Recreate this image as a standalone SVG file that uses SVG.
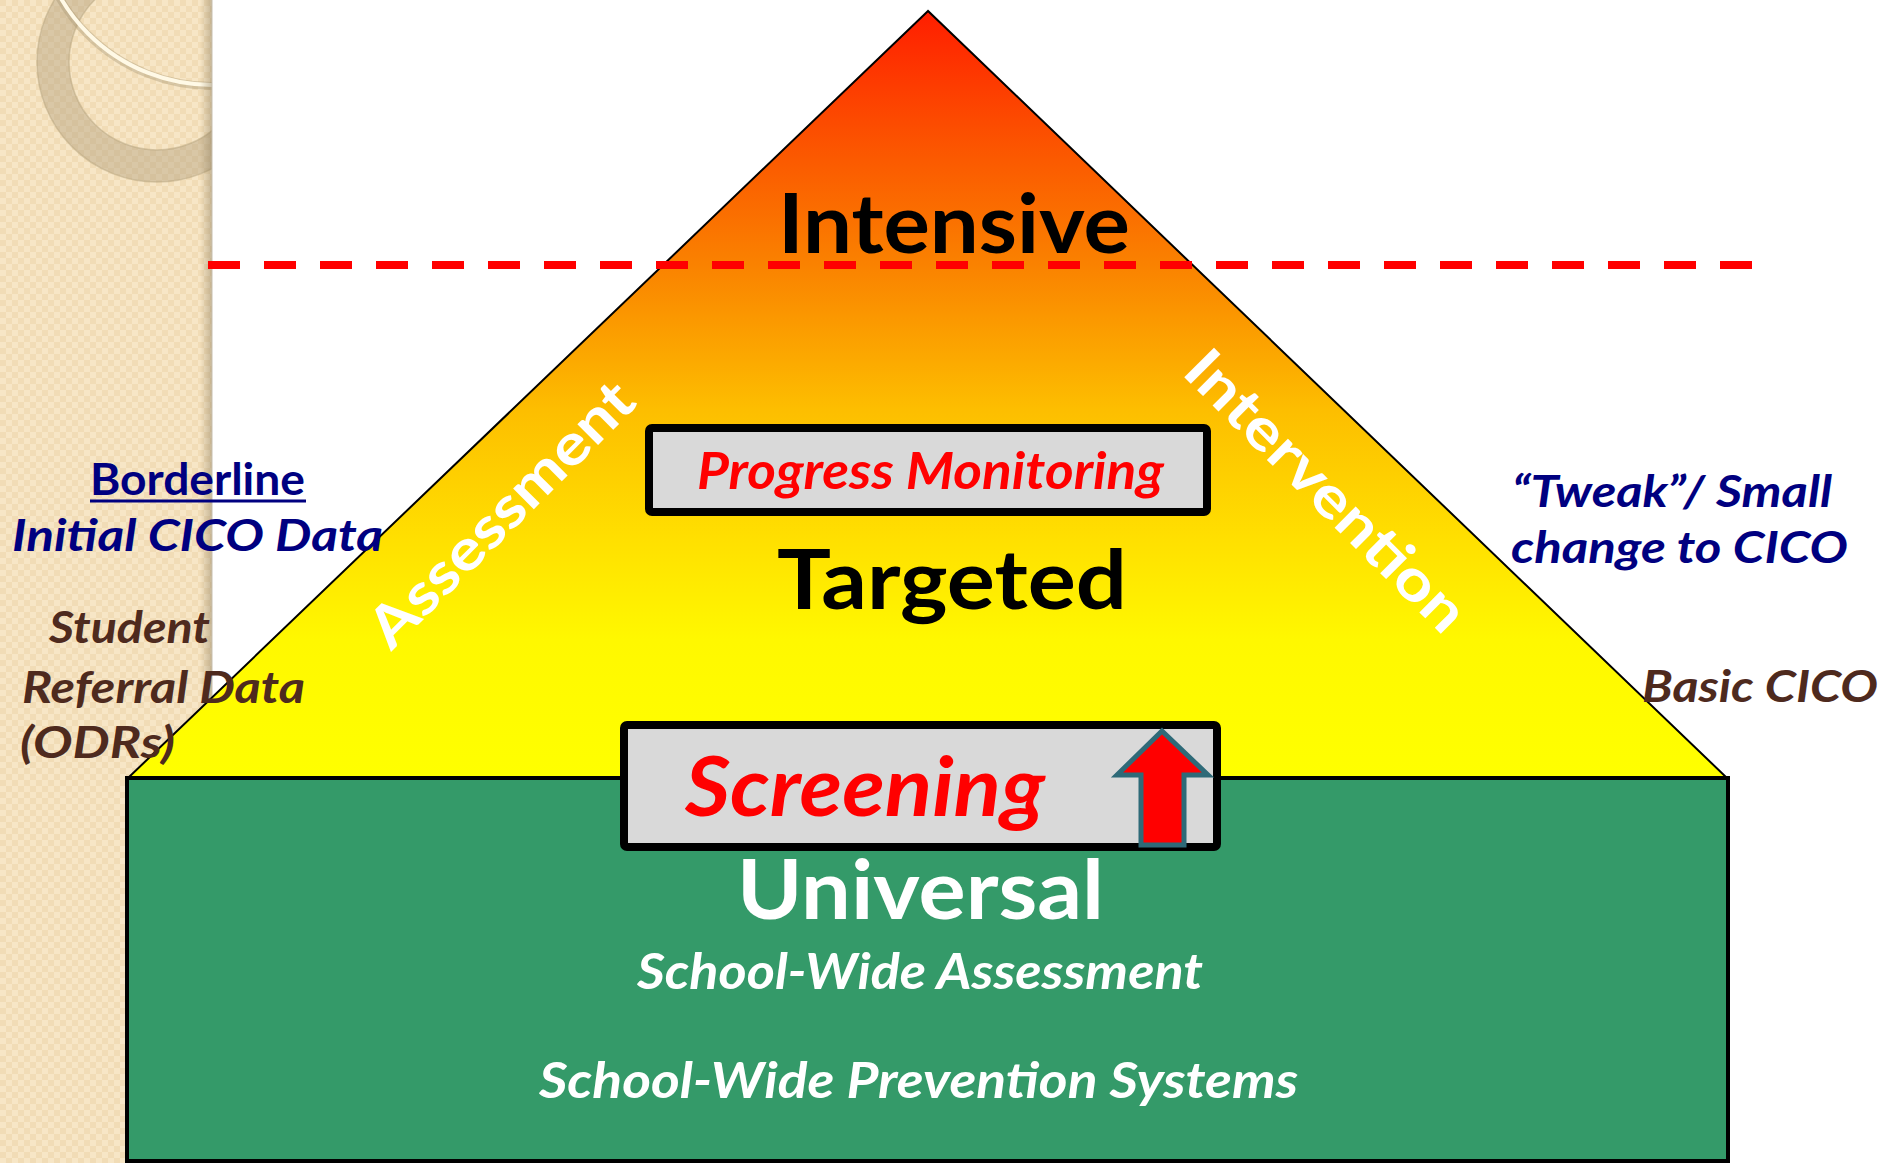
<svg xmlns="http://www.w3.org/2000/svg" width="1886" height="1163" viewBox="0 0 1886 1163">
<defs>
<style>
.f{font-family:Lato,"Open Sans","Liberation Sans",sans-serif;font-weight:bold}
.it{font-style:italic}
.navy{fill:#000080}
.brown{fill:#4E2A1E}
.red{fill:#FF0000}
.blk{fill:#000000}
.wht{fill:#FFFFFF}
.box{fill:#D9D9D9;stroke:#000;stroke-width:8;stroke-linejoin:round}
</style>
<linearGradient id="tri" gradientUnits="userSpaceOnUse" x1="0" y1="11" x2="0" y2="778">
<stop offset="0" stop-color="#FF1E00"/>
<stop offset="0.194" stop-color="#FB5A00"/>
<stop offset="0.331" stop-color="#FA8200"/>
<stop offset="0.52" stop-color="#FDBE00"/>
<stop offset="0.69" stop-color="#FFE000"/>
<stop offset="0.82" stop-color="#FFF800"/>
<stop offset="1" stop-color="#FFFF00"/>
</linearGradient>
<pattern id="chk" width="12" height="12" patternUnits="userSpaceOnUse">
<rect width="12" height="12" fill="#F7E6C6"/>
<rect width="6" height="6" fill="#F1DCB6"/>
<rect x="6" y="6" width="6" height="6" fill="#F1DCB6"/>
</pattern>
<linearGradient id="shade" x1="0" y1="0" x2="1" y2="0">
<stop offset="0" stop-color="#8a7a5a" stop-opacity="0"/>
<stop offset="1" stop-color="#8a7a5a" stop-opacity="0.45"/>
</linearGradient>
<clipPath id="panel"><rect x="0" y="0" width="212" height="1163"/></clipPath>
</defs>
<rect width="1886" height="1163" fill="#FFFFFF"/>
<g id="side-panel">
<rect x="0" y="0" width="212" height="1163" fill="url(#chk)"/>
<g clip-path="url(#panel)">
<path d="M157,62 m-120,0 a120,120 0 1,0 240,0 a120,120 0 1,0 -240,0 Z M157,62 m-88,0 a88,88 0 1,1 176,0 a88,88 0 1,1 -176,0 Z" fill="#A89674" fill-opacity="0.38" fill-rule="evenodd" stroke="#B8A680" stroke-opacity="0.5" stroke-width="1.5"/>
<circle cx="212" cy="-90" r="176" fill="none" stroke="#A89674" stroke-opacity="0.4" stroke-width="8"/>
<circle cx="212" cy="-90" r="175" fill="none" stroke="#FFF9E6" stroke-width="4"/>
</g>
<rect x="200" y="0" width="12" height="1163" fill="url(#shade)"/>
<line x1="212" y1="0" x2="212" y2="1163" stroke="#C8C0B0" stroke-width="1"/>
</g>
<g id="pyramid-targeted">
<polygon points="928,11 128,778 1727,778" fill="url(#tri)" stroke="#000" stroke-width="2" stroke-linejoin="miter"/>
</g>
<g id="connectors">
<line x1="208" y1="265" x2="1756" y2="265" stroke="#FF0000" stroke-width="8" stroke-dasharray="32 24"/>
</g>
<g id="intensive">
<text class="f blk" x="778" y="253" font-size="83" textLength="352" lengthAdjust="spacingAndGlyphs">Intensive</text>
</g>
<g id="assessment">
<text class="f wht" x="0" y="0" font-size="57" text-anchor="middle" textLength="350" lengthAdjust="spacingAndGlyphs" transform="translate(515,528) rotate(-45)">Assessment</text>
</g>
<g id="intervention">
<text class="f wht" x="0" y="0" font-size="58" text-anchor="middle" textLength="372" lengthAdjust="spacingAndGlyphs" transform="translate(1312,505) rotate(45)">Intervention</text>
</g>
<g id="progress-monitoring">
<rect class="box" x="649" y="428" width="558" height="84" rx="3"/>
<text class="f it red" x="697" y="489" font-size="52" textLength="467" lengthAdjust="spacingAndGlyphs">Progress Monitoring</text>
</g>
<g id="targeted">
<text class="f blk" x="777" y="609" font-size="83" textLength="350" lengthAdjust="spacingAndGlyphs">Targeted</text>
</g>
<g id="universal">
<rect x="127" y="778" width="1601" height="383" fill="#349A69" stroke="#000" stroke-width="4"/>
<text class="f wht" x="737" y="919" font-size="83" textLength="367" lengthAdjust="spacingAndGlyphs">Universal</text>
<text class="f it wht" x="637" y="989" font-size="50" textLength="566" lengthAdjust="spacingAndGlyphs">School-Wide Assessment</text>
<text class="f it wht" x="539" y="1098" font-size="49" textLength="759" lengthAdjust="spacingAndGlyphs">School-Wide Prevention Systems</text>
</g>
<g id="screening">
<rect class="box" x="624" y="725" width="593" height="122" rx="3"/>
<text class="f it red" x="685" y="816" font-size="82" textLength="360" lengthAdjust="spacingAndGlyphs">Screening</text>
<polygon points="1162,731 1208,775 1184,775 1184,845 1141,845 1141,775 1117,775" fill="#FF0000" stroke="#2E6A78" stroke-width="5" stroke-linejoin="miter"/>
</g>
<g id="left-labels">
<text class="f navy" x="90" y="495" font-size="44" textLength="215" lengthAdjust="spacingAndGlyphs">Borderline</text>
<line x1="90" y1="501" x2="306" y2="501" stroke="#000080" stroke-width="3"/>
<text class="f it navy" x="12" y="551" font-size="44" textLength="371" lengthAdjust="spacingAndGlyphs">Initial CICO Data</text>
<text class="f it brown" x="49" y="643" font-size="43" textLength="161" lengthAdjust="spacingAndGlyphs">Student</text>
<text class="f it brown" x="22" y="703" font-size="43" textLength="283" lengthAdjust="spacingAndGlyphs">Referral Data</text>
<text class="f it brown" x="20" y="758" font-size="43" textLength="155" lengthAdjust="spacingAndGlyphs">(ODRs)</text>
</g>
<g id="right-labels">
<text class="f it navy" x="1512" y="507" font-size="44" textLength="320" lengthAdjust="spacingAndGlyphs">“Tweak”/ Small</text>
<text class="f it navy" x="1511" y="563" font-size="44" textLength="337" lengthAdjust="spacingAndGlyphs">change to CICO</text>
<text class="f it brown" x="1642" y="702" font-size="43" textLength="236" lengthAdjust="spacingAndGlyphs">Basic CICO</text>
</g>
</svg>
